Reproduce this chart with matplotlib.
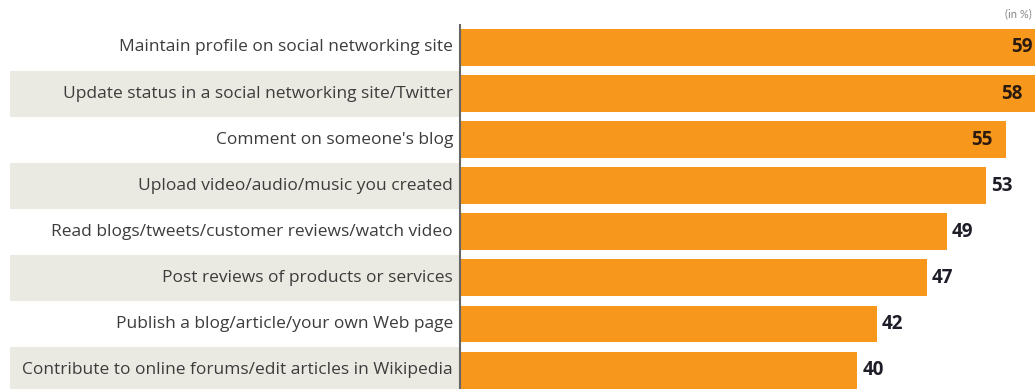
import matplotlib.pyplot as plt

# survey answers, top to bottom
activities = [
    "Maintain profile on social networking site",
    "Update status in a social networking site/Twitter",
    "Comment on someone's blog",
    "Upload video/audio/music you created",
    "Read blogs/tweets/customer reviews/watch video",
    "Post reviews of products or services",
    "Publish a blog/article/your own Web page",
    "Contribute to online forums/edit articles in Wikipedia",
]
shares = [59, 58, 55, 53, 49, 47, 42, 40]

bar_color = "#f7981d"
band_color = "#ebeae2"

fig = plt.figure(figsize=(10.35, 3.89), dpi=100)
ax = fig.add_axes([0, 0, 1, 1])
ax.set_xlim(-46.3, 57.9)
ax.set_ylim(7.41, -1.03)
ax.axis("off")

rows = list(range(len(activities)))

# light stripes behind every other label
for i in rows:
    if i % 2 == 1:
        ax.barh(i, 45.3, left=-45.3, height=1.0, color=band_color, zorder=0)

ax.barh(rows, shares, height=0.8, color=bar_color, zorder=2)
ax.vlines(0, -0.5, 7.6, color="#666666", linewidth=1.5, zorder=3)

for i, (name, val) in enumerate(zip(activities, shares)):
    ax.text(-0.7, i, name, ha="right", va="center", fontsize=12.5,
            family="Open Sans", color="#3c3c3c", zorder=4)
    # long bars get their number inside the bar end
    if val >= 55:
        ax.text(val - 1.35, i, str(val), ha="right", va="center", fontsize=13.5,
                fontweight="bold", family="Open Sans", color="#2a1a10", zorder=4)
    else:
        ax.text(val + 0.5, i, str(val), ha="left", va="center", fontsize=13.5,
                fontweight="bold", family="Open Sans", color="#1e1e28", zorder=4)

ax.text(57.6, -0.73, "(in %)", ha="right", va="center", fontsize=8,
        family="Lato", color="#888888")

fig.savefig("out.png", dpi=100)
